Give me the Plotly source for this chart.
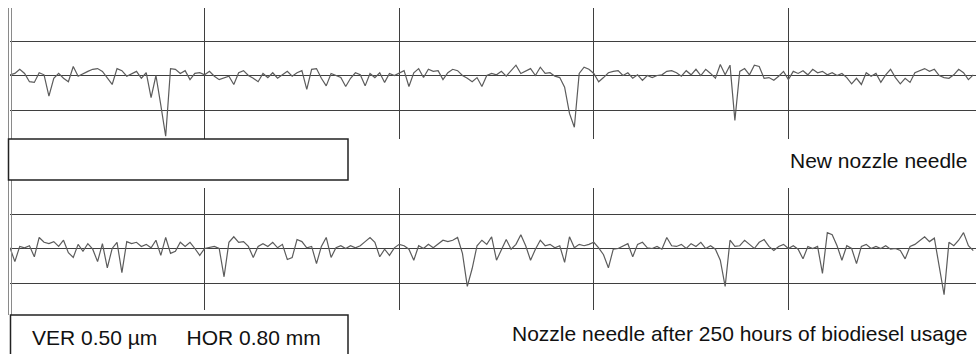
import numpy as np
import plotly.graph_objects as go

# ---------------- data ----------------
SAMPLE_STEP_MM = 0.02          # spacing of the profile samples along the trace
HOR_DIV_MM = 0.80              # horizontal scale per grid division
VER_DIV_UM = 0.50              # vertical scale per grid division

new_needle_um = [
    0.01, 0.03, 0.09, 0.03, -0.09, -0.10, 0.04, 0.01, -0.30, -0.04,
    0.03, -0.04, -0.09, 0.13, -0.01, 0.03, 0.06, 0.09, 0.10, 0.06,
    -0.04, -0.13, 0.10, 0.07, -0.01, 0.03, 0.06, -0.04, 0.04, -0.32,
    0.00, -0.43, -0.88, 0.10, 0.09, 0.03, 0.07, -0.06, 0.03, 0.04,
    0.01, 0.06, -0.01, -0.06, -0.04, -0.01, -0.13, 0.04, 0.07, 0.00,
    -0.04, -0.09, 0.03, -0.03, 0.04, -0.04, 0.01, 0.06, -0.01, 0.04,
    0.07, -0.20, 0.09, 0.10, -0.04, -0.15, 0.03, 0.00, -0.03, -0.16,
    -0.04, 0.04, 0.01, -0.15, 0.03, -0.03, 0.04, -0.10, 0.03, 0.00,
    0.04, 0.07, -0.16, 0.04, 0.10, -0.03, 0.09, 0.06, 0.07, -0.06,
    0.04, 0.09, 0.07, 0.00, -0.04, -0.09, -0.03, -0.16, 0.00, 0.03,
    0.01, 0.06, -0.01, 0.07, 0.15, 0.03, 0.07, 0.10, 0.00, 0.12,
    0.03, 0.04, -0.01, -0.03, -0.17, -0.55, -0.75, 0.03, 0.12, 0.09,
    0.03, -0.09, -0.03, 0.04, 0.06, 0.07, 0.00, 0.04, -0.04, 0.01,
    -0.07, 0.00, -0.03, 0.00, 0.01, 0.06, 0.07, 0.04, -0.01, 0.07,
    0.01, 0.09, 0.00, 0.09, 0.03, -0.04, 0.16, 0.01, 0.15, -0.65,
    0.06, 0.10, 0.01, 0.15, 0.13, -0.04, -0.03, -0.07, -0.01, 0.06,
    -0.06, 0.06, 0.03, 0.07, 0.01, 0.09, 0.04, 0.06, 0.01, 0.04,
    0.00, 0.03, -0.03, -0.12, -0.04, -0.13, 0.04, -0.01, 0.03, -0.10,
    0.01, 0.09, -0.03, -0.12, -0.04, -0.10, 0.04, 0.07, 0.10, 0.06,
    0.09, 0.00, -0.03, -0.04, 0.01, 0.09, 0.04, -0.06, 0.01,
]

used_needle_um = [
    0.01, -0.19, 0.03, 0.01, 0.04, -0.12, 0.16, 0.09, 0.07, 0.10,
    0.03, 0.12, -0.06, -0.13, 0.06, -0.04, 0.07, -0.01, -0.19, 0.07,
    -0.28, 0.00, 0.09, -0.35, 0.10, 0.07, 0.09, 0.03, 0.06, 0.01,
    0.12, -0.10, 0.16, -0.07, -0.04, 0.09, 0.03, 0.09, 0.00, -0.10,
    0.00, 0.01, 0.03, 0.00, -0.41, 0.09, 0.17, 0.09, 0.10, 0.03,
    -0.13, 0.03, 0.07, 0.03, 0.09, 0.01, 0.06, -0.16, -0.13, 0.13,
    0.10, 0.01, 0.03, -0.22, 0.03, 0.16, -0.13, 0.01, 0.04, 0.00,
    0.04, 0.01, 0.04, 0.10, 0.16, 0.09, -0.12, -0.01, -0.10, 0.01,
    0.06, 0.04, -0.01, -0.17, 0.04, 0.00, 0.06, 0.01, 0.07, 0.12,
    0.10, 0.12, 0.16, -0.07, -0.55, -0.29, 0.04, 0.12, 0.06, 0.17,
    -0.17, -0.01, 0.13, -0.01, 0.06, 0.20, 0.04, -0.17, -0.01, 0.12,
    0.04, 0.06, 0.01, 0.04, -0.20, 0.17, 0.01, 0.06, 0.04, 0.06,
    0.09, 0.01, -0.09, -0.28, -0.01, 0.00, 0.04, 0.07, -0.12, 0.06,
    0.09, 0.01, 0.00, 0.03, -0.01, 0.16, 0.04, 0.03, 0.06, 0.00,
    0.07, 0.03, 0.09, 0.00, 0.04, -0.01, -0.17, -0.55, 0.12, 0.03,
    0.04, 0.12, 0.06, 0.00, 0.09, 0.13, 0.03, -0.03, 0.03, 0.06,
    0.00, 0.04, -0.01, -0.15, 0.03, 0.00, 0.03, -0.36, 0.23, 0.20,
    0.04, -0.17, 0.04, 0.00, -0.22, 0.03, 0.06, 0.00, 0.03, 0.00,
    0.04, -0.01, 0.00, -0.03, -0.15, 0.03, 0.06, 0.12, 0.17, 0.10,
    0.15, -0.26, -0.67, 0.09, 0.04, 0.12, 0.23, 0.04, -0.03,
]

label_new = "New nozzle needle"
label_used = "Nozzle needle after 250 hours of biodiesel usage"
scale_text = "VER 0.50 µm&nbsp;&nbsp;&nbsp;&nbsp; HOR 0.80 mm"

# ---------------- figure ----------------
W, H = 976, 354
def px_x(p):
    return p / W
def px_y(p):
    return 1 - p / H

fig = go.Figure()

x_new = np.arange(len(new_needle_um)) * SAMPLE_STEP_MM
x_used = np.arange(len(used_needle_um)) * SAMPLE_STEP_MM

trace_color = "#5c5c5c"
grid_color = "#3f3f3f"

fig.add_trace(go.Scatter(x=x_new, y=new_needle_um, mode="lines",
                         line=dict(color=trace_color, width=1.2),
                         xaxis="x", yaxis="y", hoverinfo="skip", showlegend=False))
fig.add_trace(go.Scatter(x=x_used, y=used_needle_um, mode="lines",
                         line=dict(color=trace_color, width=1.2),
                         xaxis="x2", yaxis="y2", hoverinfo="skip", showlegend=False))

x_left_px = 10
px_per_mm = 194.6 / HOR_DIV_MM
x_max = (W - x_left_px) / px_per_mm
px_per_um = 34.5 / VER_DIV_UM
xgrid = [HOR_DIV_MM * k for k in range(1, 5)]
ygrid = [-VER_DIV_UM, 0, VER_DIV_UM]

common_x = dict(range=[0, x_max], showticklabels=False, ticks="", showline=False,
                zeroline=False, showgrid=True, gridcolor=grid_color, gridwidth=1.2,
                tickmode="array", tickvals=xgrid, fixedrange=True)
common_y = dict(showticklabels=False, ticks="", showline=False, zeroline=False,
                showgrid=True, gridcolor=grid_color, gridwidth=1.2,
                tickmode="array", tickvals=ygrid, fixedrange=True)

# top panel: pixels y 8..139, centre line at 75.5
top_t, top_b, top_c = 8, 139, 75.5
# bottom panel: pixels y 188..310, centre line at 248.5
bot_t, bot_b, bot_c = 188, 310, 248.5

fig.update_layout(
    width=W, height=H, margin=dict(l=0, r=0, t=0, b=0),
    paper_bgcolor="white", plot_bgcolor="white",
    xaxis=dict(domain=[px_x(x_left_px), 1], anchor="y", **common_x),
    yaxis=dict(domain=[px_y(top_b), px_y(top_t)], anchor="x",
               range=[-(top_b - top_c) / px_per_um, (top_c - top_t) / px_per_um], **common_y),
    xaxis2=dict(domain=[px_x(x_left_px), 1], anchor="y2", **common_x),
    yaxis2=dict(domain=[px_y(bot_b), px_y(bot_t)], anchor="x2",
                range=[-(bot_b - bot_c) / px_per_um, (bot_c - bot_t) / px_per_um], **common_y),
    showlegend=False,
)

shapes = []
# double left borders
for xp in (8.5, 11.5):
    shapes.append(dict(type="line", xref="paper", yref="paper",
                       x0=px_x(xp), x1=px_x(xp), y0=px_y(139), y1=px_y(top_t),
                       line=dict(color="#8a8a8a", width=1)))
    shapes.append(dict(type="line", xref="paper", yref="paper",
                       x0=px_x(xp), x1=px_x(xp), y0=px_y(315), y1=px_y(180),
                       line=dict(color="#8a8a8a", width=1)))
# label boxes
shapes.append(dict(type="rect", xref="paper", yref="paper",
                   x0=px_x(8.5), x1=px_x(348), y0=px_y(180), y1=px_y(139),
                   line=dict(color="#222222", width=1.5), fillcolor="white"))
shapes.append(dict(type="rect", xref="paper", yref="paper",
                   x0=px_x(10.5), x1=px_x(348), y0=px_y(360), y1=px_y(315),
                   line=dict(color="#222222", width=1.5), fillcolor="white"))
fig.update_layout(shapes=shapes)

font = dict(family="Arial, Liberation Sans, sans-serif", size=21, color="#111111")
fig.add_annotation(text=label_new, xref="paper", yref="paper",
                   x=px_x(969), y=px_y(160), xanchor="right", yanchor="middle",
                   showarrow=False, font=font)
fig.add_annotation(text=label_used, xref="paper", yref="paper",
                   x=px_x(969), y=px_y(333), xanchor="right", yanchor="middle",
                   showarrow=False, font=font)
fig.add_annotation(text=scale_text, xref="paper", yref="paper",
                   x=px_x(30), y=px_y(337), xanchor="left", yanchor="middle",
                   showarrow=False, font=font)

fig.write_html("out.html")
